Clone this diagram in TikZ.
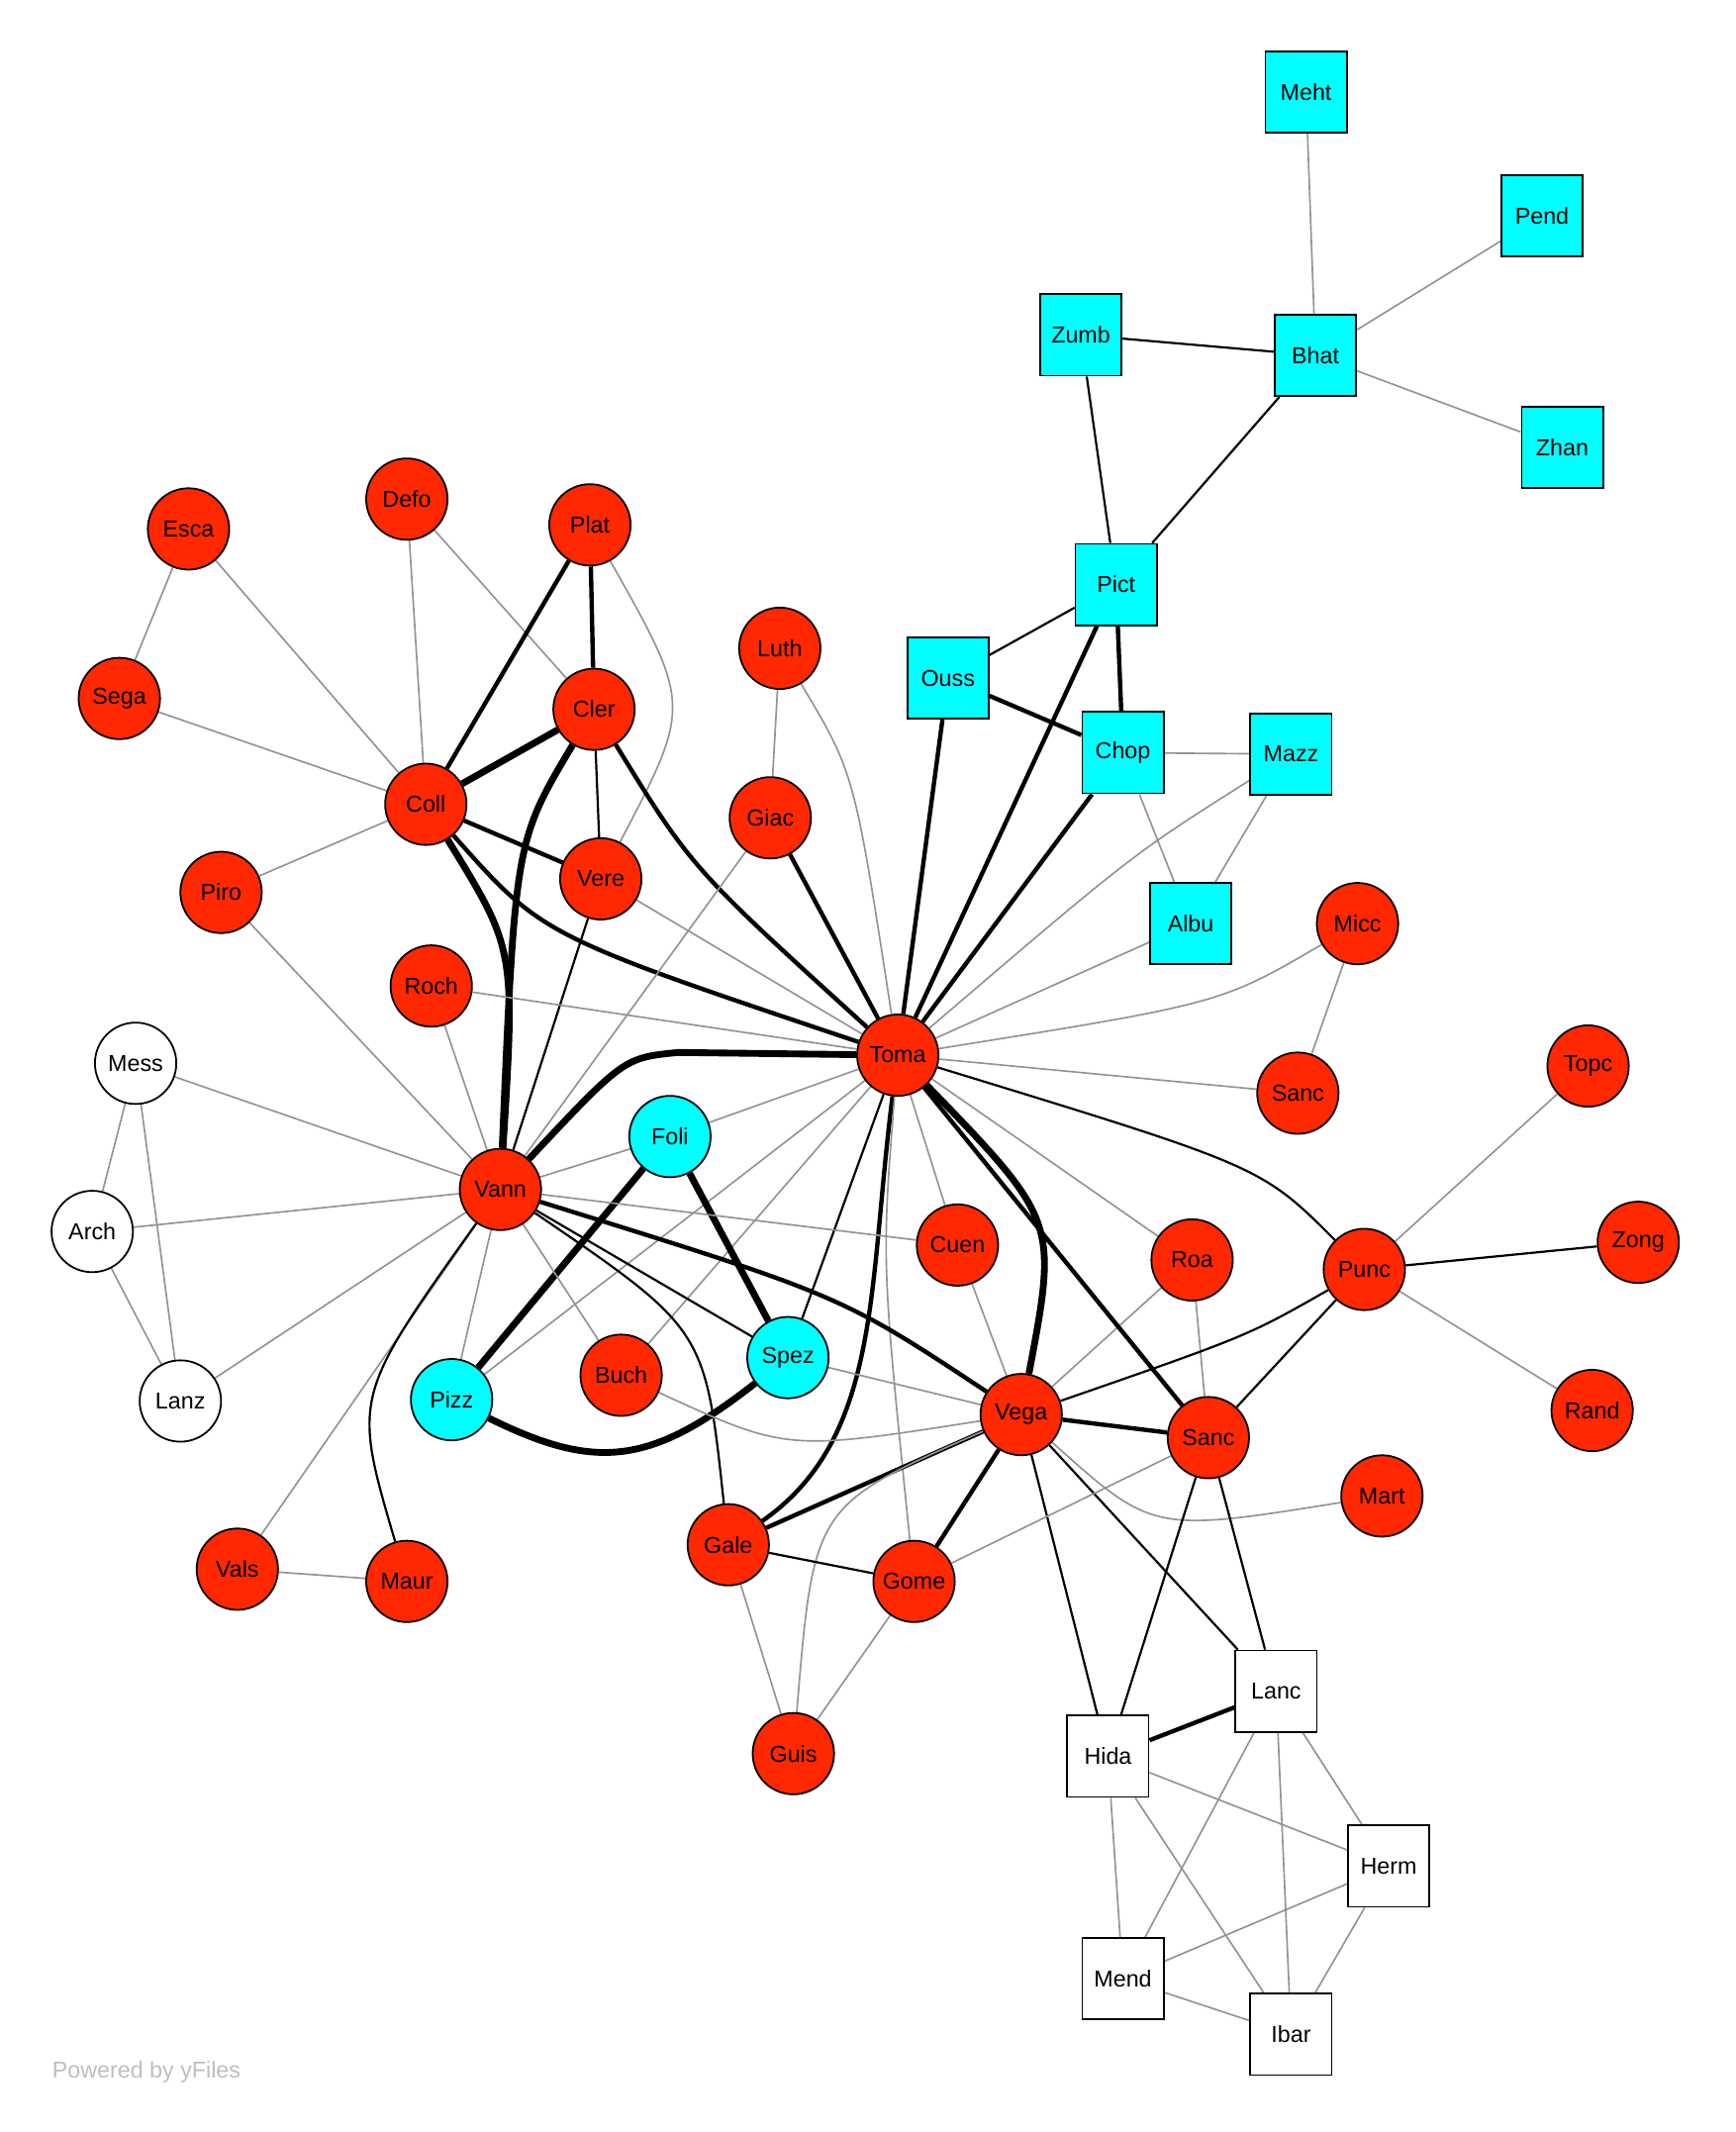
\documentclass[tikz,border=0pt]{standalone}
\usepackage{fontspec}
\setmainfont{Liberation Sans}
\usetikzlibrary{backgrounds}
\definecolor{nred}{RGB}{255,40,0}
\definecolor{ncyan}{RGB}{0,255,255}
\begin{document}
\begin{tikzpicture}[x=1pt,y=-1pt,
 base/.style={draw=black,line width=1.3pt,font=\fontsize{17}{20}\selectfont,inner sep=0pt},
 rc/.style={base,circle,fill=nred,minimum size=60pt},
 cc/.style={base,circle,fill=ncyan,minimum size=60pt},
 wc/.style={base,circle,fill=white,minimum size=60pt},
 cs/.style={base,rectangle,fill=ncyan,minimum size=60pt},
 ws/.style={base,rectangle,fill=white,minimum size=60pt},
 g/.style={draw=gray!85,line width=1.2pt},
 b/.style={draw=black,line width=1.6pt},
 t/.style={draw=black,line width=3.2pt},
 v/.style={draw=black,line width=5pt}]
\useasboundingbox (0,0) rectangle (1280,1572);
\node[cs] (Meht) at (963,68) {Meht};
\node[cs] (Pend) at (1137,159) {Pend};
\node[cs] (Zumb) at (797,247) {Zumb};
\node[cs] (Bhat) at (970,262) {Bhat};
\node[cs] (Zhan) at (1152,330) {Zhan};
\node[cs] (Pict) at (823,431) {Pict};
\node[cs] (Ouss) at (699,500) {Ouss};
\node[cs] (Chop) at (828,555) {Chop};
\node[cs] (Mazz) at (952,556) {Mazz};
\node[cs] (Albu) at (878,681) {Albu};
\node[rc] (Esca) at (139,390) {Esca};
\node[rc] (Defo) at (300,368) {Defo};
\node[rc] (Plat) at (435,387) {Plat};
\node[rc] (Sega) at (88,515) {Sega};
\node[rc] (Cler) at (438,523) {Cler};
\node[rc] (Luth) at (575,478) {Luth};
\node[rc] (Coll) at (314,593) {Coll};
\node[rc] (Giac) at (568,603) {Giac};
\node[rc] (Vere) at (443,648) {Vere};
\node[rc] (Piro) at (163,658) {Piro};
\node[rc] (Micc) at (1001,681) {Micc};
\node[rc] (Roch) at (318,727) {Roch};
\node[wc] (Mess) at (100,784) {Mess};
\node[rc] (Toma) at (662,778) {Toma};
\node[rc] (SancA) at (957,806) {Sanc};
\node[rc] (Topc) at (1171,786) {Topc};
\node[cc] (Foli) at (494,838) {Foli};
\node[rc] (Vann) at (369,877) {Vann};
\node[wc] (Arch) at (68,908) {Arch};
\node[rc] (Cuen) at (706,918) {Cuen};
\node[rc] (Roa) at (879,929) {Roa};
\node[rc] (Punc) at (1006,936) {Punc};
\node[rc] (Zong) at (1208,916) {Zong};
\node[cc] (Spez) at (581,1001) {Spez};
\node[wc] (Lanz) at (133,1033) {Lanz};
\node[cc] (Pizz) at (333,1032) {Pizz};
\node[rc] (Buch) at (458,1014) {Buch};
\node[rc] (Vega) at (753,1043) {Vega};
\node[rc] (SancB) at (891,1060) {Sanc};
\node[rc] (Rand) at (1174,1040) {Rand};
\node[rc] (Mart) at (1019,1103) {Mart};
\node[rc] (Vals) at (175,1157) {Vals};
\node[rc] (Maur) at (300,1166) {Maur};
\node[rc] (Gale) at (537,1139) {Gale};
\node[rc] (Gome) at (674,1166) {Gome};
\node[rc] (Guis) at (585,1293) {Guis};
\node[ws] (Lanc) at (941,1247) {Lanc};
\node[ws] (Hida) at (817,1295) {Hida};
\node[ws] (Herm) at (1024,1376) {Herm};
\node[ws] (Mend) at (828,1459) {Mend};
\node[ws] (Ibar) at (952,1500) {Ibar};
\node[text=gray!50,font=\fontsize{17}{20}\selectfont] (pw) at (108,1528) {Powered by yFiles};
\begin{pgfonlayer}{background}
\fill[white] (0,0) rectangle (1280,1572);
\draw[g] (Meht)--(Bhat) (Pend)--(Bhat) (Zhan)--(Bhat);
\draw[b] (Zumb)--(Bhat) (Zumb)--(Pict) (Bhat)--(Pict) (Pict)--(Ouss);
\draw[t] (Pict)--(Chop) (Pict)--(Toma) (Ouss)--(Chop) (Ouss)--(Toma) (Chop)--(Toma);
\draw[g] (Chop)--(Mazz) (Chop)--(Albu) (Mazz)--(Albu) (Albu)--(Toma);
\draw[g] (Mazz) .. controls (835,630) .. (Toma);
\draw[g] (Micc) .. controls (900,740) .. (Toma);
\draw[g] (Micc)--(SancA) (Toma)--(SancA) (Topc)--(Punc) (Rand)--(Punc) (Roa)--(Vega) (Roa)--(SancB) (Toma)--(Roa);
\draw[b] (Toma) .. controls (930,860) .. (Punc);
\draw[b] (Zong)--(Punc) (Punc)--(SancB);
\draw[b] (Punc) .. controls (920,985) .. (Vega);
\draw[g] (Esca)--(Sega) (Esca)--(Coll) (Defo)--(Coll) (Defo)--(Cler) (Sega)--(Coll) (Piro)--(Coll);
\draw[g] (Plat) .. controls (510,520) .. (Vere);
\draw[t] (Plat)--(Cler) (Plat)--(Coll) (Coll)--(Vere);
\draw[v] (Coll)--(Cler);
\draw[t] (Coll) .. controls (400,690) .. (Toma);
\draw[v] (Coll) .. controls (380,700) .. (Vann);
\draw[v] (Cler) .. controls (380,620) .. (Vann);
\draw[b] (Cler)--(Vere) (Vere)--(Vann);
\draw[t] (Cler) .. controls (510,640) .. (Toma);
\draw[g] (Luth)--(Giac) (Giac)--(Vann) (Vere)--(Toma) (Piro)--(Vann) (Roch)--(Toma) (Roch)--(Vann);
\draw[g] (Luth) .. controls (630,570) .. (Toma);
\draw[t] (Giac)--(Toma);
\draw[g] (Mess)--(Vann) (Mess)--(Arch) (Mess)--(Lanz) (Arch)--(Lanz) (Arch)--(Vann) (Lanz)--(Vann);
\draw[v] (Toma) -- (500,776) .. controls (460,780) .. (Vann);
\draw[g] (Toma)--(Foli) (Toma)--(Pizz) (Toma)--(Buch) (Toma)--(Cuen);
\draw[b] (Toma)--(Spez);
\draw[t] (Toma) .. controls (640,950) and (650,1060) .. (Gale);
\draw[g] (Toma) .. controls (650,930) .. (Gome);
\draw[v] (Toma) .. controls (780,900) .. (Vega);
\draw[t] (Toma)--(SancB);
\draw[g] (Foli)--(Vann);
\draw[v] (Foli)--(Pizz) (Foli)--(Spez);
\draw[g] (Vann)--(Cuen) (Vann)--(Buch) (Vann)--(Pizz) (Vann)--(Vals) (Spez)--(Vega) (Cuen)--(Vega);
\draw[b] (Vann)--(Spez);
\draw[t] (Vann) .. controls (620,955) .. (Vega);
\draw[b] (Vann) .. controls (520,980) .. (Gale);
\draw[b] (Vann) .. controls (260,1030) .. (Maur);
\draw[v] (Pizz) .. controls (440,1085) and (480,1080) .. (Spez);
\draw[g] (Buch) .. controls (580,1070) .. (Vega);
\draw[t] (Vega)--(SancB) (Vega)--(Gale) (Vega)--(Gome);
\draw[g] (Vega) .. controls (850,1130) .. (Mart);
\draw[b] (Vega)--(Hida) (Vega)--(Lanc);
\draw[g] (Vega) .. controls (600,1110) .. (Guis);
\draw[g] (Gome)--(SancB) (Gale)--(Guis) (Gome)--(Guis) (Vals)--(Maur);
\draw[b] (Gale)--(Gome) (SancB)--(Hida) (SancB)--(Lanc);
\draw[t] (Hida)--(Lanc);
\draw[g] (Hida)--(Herm) (Hida)--(Mend) (Hida)--(Ibar) (Lanc)--(Mend) (Lanc)--(Ibar) (Lanc)--(Herm) (Herm)--(Mend) (Herm)--(Ibar) (Mend)--(Ibar);
\end{pgfonlayer}
\end{tikzpicture}
\end{document}
